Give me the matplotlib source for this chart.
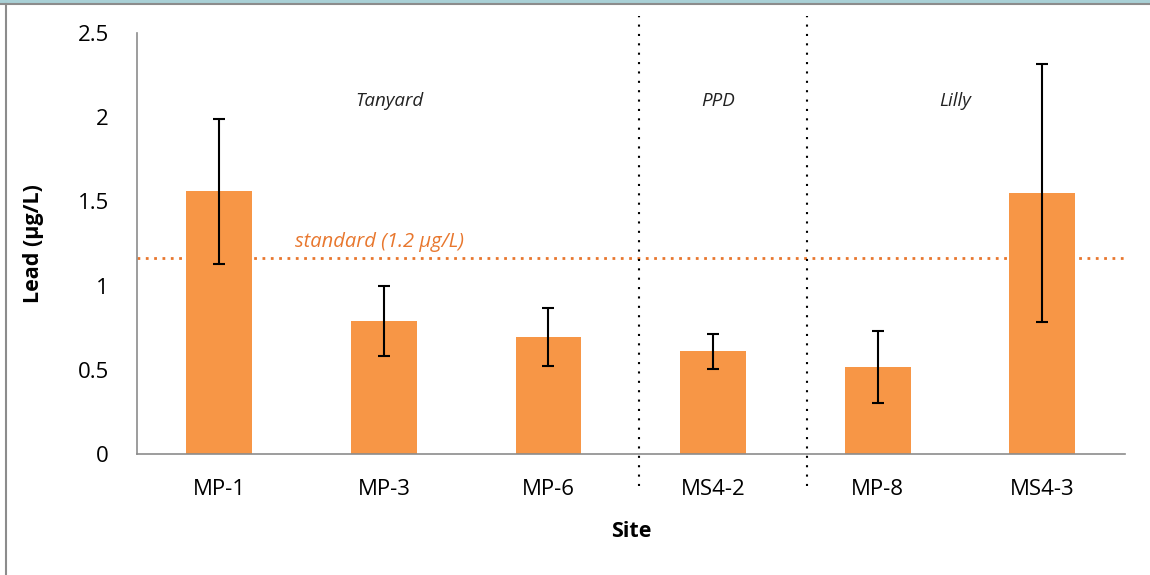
import numpy as np
import matplotlib.pyplot as plt
from matplotlib.lines import Line2D

plt.rcParams['font.family'] = ['Open Sans', 'DejaVu Sans']

sites = ["MP-1", "MP-3", "MP-6", "MS4-2", "MP-8", "MS4-3"]
lead = [1.56, 0.79, 0.695, 0.61, 0.515, 1.55]
lead_err = [0.43, 0.205, 0.175, 0.105, 0.215, 0.765]
standard_level = 1.165
groups = ["Tanyard", "PPD", "Lilly"]

fig = plt.figure(figsize=(11.5, 5.75), dpi=100)
ax = fig.add_axes([0.119, 0.2104, 0.859, 0.7322])

x = np.arange(len(sites))
ax.bar(x, lead, width=0.4, color="#F79646", zorder=2)
ax.errorbar(x, lead, yerr=lead_err, fmt="none", ecolor="black",
            elinewidth=1.5, capsize=4.5, capthick=1.5, zorder=3)

ax.axhline(standard_level, color="#E8772E", linestyle=(0, (1, 2)), linewidth=2, zorder=1)
ax.text(0.975, 1.26, "standard (1.2 µg/L)", color="#E8772E", style="italic",
        fontsize=14.5, ha="center", va="center")

# dotted separators between site groups
for xs in [2.548, 3.568]:
    ax.plot([xs, xs], [-0.19, 2.6], color="black", linestyle=(0, (1, 3.5)),
            linewidth=1.5, clip_on=False, zorder=1)

for gx, name in zip([1.036, 3.03, 4.47], groups):
    ax.text(gx, 2.096, name, style="italic", fontsize=13.5, color="#222222",
            ha="center", va="center")

ax.set_xlim(-0.5, 5.5)
ax.set_ylim(0, 2.5)
ax.set_yticks([0, 0.5, 1, 1.5, 2, 2.5])
ax.set_yticklabels(["0", "0.5", "1", "1.5", "2", "2.5"])
ax.set_xticks(x)
ax.set_xticklabels(sites)
ax.tick_params(axis="both", length=0, labelsize=16)
ax.tick_params(axis="y", pad=20)
ax.tick_params(axis="x", pad=18)

for s in ["top", "right"]:
    ax.spines[s].set_visible(False)
for s in ["left", "bottom"]:
    ax.spines[s].set_color("#8c8c8c")
    ax.spines[s].set_linewidth(1.2)

ax.set_xlabel("Site", fontsize=15.5, fontweight="bold", labelpad=15)
ax.set_ylabel("Lead (µg/L)", fontsize=15.5, fontweight="bold", labelpad=24)

# outer frame
fig.add_artist(Line2D([0, 1], [0.998, 0.998], color="#a9d0d6", linewidth=3))
fig.add_artist(Line2D([0, 1], [0.993, 0.993], color="#8c8c8c", linewidth=1.5))
fig.add_artist(Line2D([0.0055, 0.0055], [0, 0.993], color="#8c8c8c", linewidth=1.5))

fig.savefig("out.png", dpi=100)
